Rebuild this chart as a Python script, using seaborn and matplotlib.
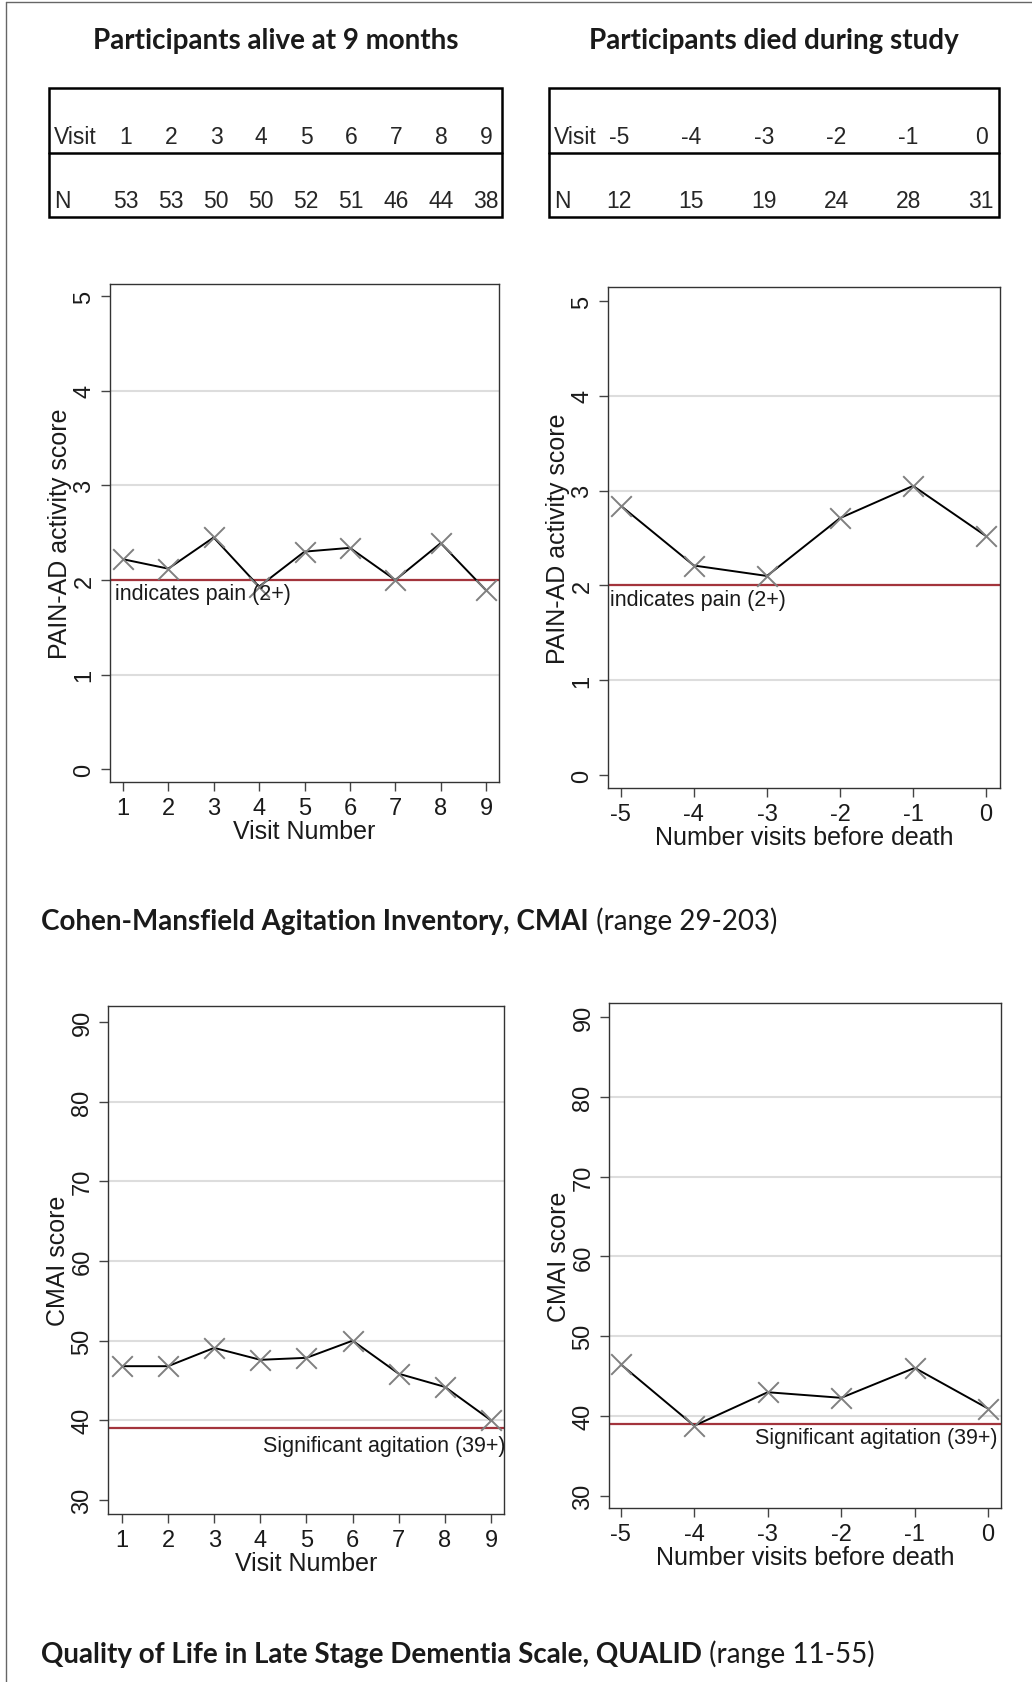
import numpy as np
import pandas as pd
import seaborn as sns
import matplotlib.pyplot as plt
from matplotlib.patches import Rectangle

# N per visit (tables on top)
alive_visits = [1, 2, 3, 4, 5, 6, 7, 8, 9]
alive_n = [53, 53, 50, 50, 52, 51, 46, 44, 38]
died_visits = [-5, -4, -3, -2, -1, 0]
died_n = [12, 15, 19, 24, 28, 31]

# PAIN-AD mean scores
pain_alive = [2.22, 2.12, 2.45, 1.93, 2.30, 2.34, 2.00, 2.39, 1.89]
pain_died = [2.84, 2.21, 2.10, 2.71, 3.05, 2.52]
pain_cutoff = 2
pain_ticks = [0, 1, 2, 3, 4, 5]

# CMAI mean scores
cmai_alive = [46.8, 46.8, 49.1, 47.6, 47.85, 50.0, 45.85, 44.2, 40.0]
cmai_died = [46.5, 38.8, 43.0, 42.3, 46.05, 40.95]
cmai_cutoff = 39
cmai_ticks = [30, 40, 50, 60, 70, 80, 90]

sns.set_theme(style="white")
plt.rcParams["font.family"] = ["Liberation Sans", "DejaVu Sans"]
plt.rcParams["axes.unicode_minus"] = False

W, H = 1032, 1683
fig = plt.figure(figsize=(W / 100, H / 100), dpi=100)

# background axes in pixel units for the page furniture
bg = fig.add_axes([0, 0, 1, 1], zorder=0)
bg.set_xlim(0, W)
bg.set_ylim(H, 0)
bg.axis("off")

head_font = ["Lato", "Open Sans", "DejaVu Sans"]
table_font = ["Liberation Sans Narrow", "Liberation Sans", "DejaVu Sans"]

# page border (left and top)
bg.plot([6, 6], [3, H], color="#666666", lw=1)
bg.plot([6, W], [3, 3], color="#666666", lw=1)

bg.text(276, 41, "Participants alive at 9 months", ha="center", va="center",
        fontsize=20, fontweight="bold", family=head_font, color="#1a1a1a")
bg.text(774, 41, "Participants died during study", ha="center", va="center",
        fontsize=20, fontweight="bold", family=head_font, color="#1a1a1a")


def draw_table(x0, x1, first, last, visits, ns):
    y0, y1, ymid = 89, 218, 154
    bg.add_patch(Rectangle((x0, y0), x1 - x0, y1 - y0, fill=False, ec="black", lw=1.8))
    bg.plot([x0, x1], [ymid, ymid], color="black", lw=1.8)
    bg.text(x0 + 5, 138, "Visit", ha="left", va="center", fontsize=16.5, family=table_font)
    bg.text(x0 + 5, 202, "N", ha="left", va="center", fontsize=16.5, family=table_font)
    cols = np.linspace(first, last, len(visits))
    for cx, v, n in zip(cols, visits, ns):
        bg.text(cx, 138, str(v), ha="center", va="center", fontsize=16.5, family=table_font)
        bg.text(cx, 202, str(n), ha="center", va="center", fontsize=16.5, family=table_font)


draw_table(49, 502, 126, 486, alive_visits, alive_n)
draw_table(549, 999, 619, 981, died_visits, died_n)


def section_title(y, bold, rest):
    t = bg.text(41, y, bold, ha="left", va="bottom", fontsize=20, fontweight="bold",
                family=head_font, color="#1a1a1a")
    bg.annotate(rest, xy=(1, 0), xycoords=t, ha="left", va="bottom", fontsize=20,
                family=head_font, color="#1a1a1a")


section_title(935, "Cohen-Mansfield Agitation Inventory, CMAI", " (range 29-203)")
section_title(1668, "Quality of Life in Late Stage Dementia Scale, QUALID", " (range 11-55)")


def px_axes(left, top, right, bottom):
    return fig.add_axes([left / W, 1 - bottom / H, (right - left) / W, (bottom - top) / H], zorder=1)


def panel(ax, x, y, ticks, cutoff, note, note_x, note_ha, note_dy, ylim, xlim, xlabel, ylabel):
    df = pd.DataFrame({"visit": x, "score": y})
    for t in ticks[1:-1]:
        ax.axhline(t, color="#dddddd", lw=1.5, zorder=0)
    ax.axhline(cutoff, color="#a3343c", lw=1.6, zorder=1)
    sns.lineplot(data=df, x="visit", y="score", color="black", lw=1.4, ax=ax, zorder=2)
    sns.scatterplot(data=df, x="visit", y="score", marker="x", s=220, color="#808080",
                    linewidth=1.4, ax=ax, zorder=3)
    ax.annotate(note, xy=(note_x, cutoff), xycoords=("axes fraction", "data"),
                xytext=(0, note_dy), textcoords="offset points", ha=note_ha, va="center",
                fontsize=15.5, color="#1a1a1a", annotation_clip=False)
    ax.set_xlim(xlim)
    ax.set_ylim(ylim)
    ax.set_xticks(x)
    ax.set_yticks(ticks)
    ax.tick_params(axis="both", direction="out", length=6.5, width=1, color="#444444",
                   labelsize=17, labelcolor="#1a1a1a", pad=4, bottom=True, left=True)
    for lab in ax.get_yticklabels():
        lab.set_rotation(90)
        lab.set_va("center")
    for spine in ax.spines.values():
        spine.set_visible(True)
        spine.set_color("#333333")
        spine.set_linewidth(1)
    ax.set_xlabel(xlabel, fontsize=18, labelpad=0, color="#1a1a1a")
    ax.set_ylabel(ylabel, fontsize=18, labelpad=1, color="#1a1a1a")


ax1 = px_axes(110, 285, 499, 783)
panel(ax1, alive_visits, pain_alive, pain_ticks, pain_cutoff, "indicates pain (2+)",
      0.012, "left", -10, (-0.136, 5.13), (0.717, 9.283), "Visit Number", "PAIN-AD activity score")

ax2 = px_axes(608, 288, 1000, 789)
panel(ax2, died_visits, pain_died, pain_ticks, pain_cutoff, "indicates pain (2+)",
      0.005, "left", -10, (-0.136, 5.147), (-5.176, 0.19), "Number visits before death",
      "PAIN-AD activity score")

ax3 = px_axes(108, 1007, 504, 1515)
panel(ax3, alive_visits, cmai_alive, cmai_ticks, cmai_cutoff, "Significant agitation (39+)",
      1.005, "right", -12.5, (28.25, 92.0), (0.70, 9.28), "Visit Number", "CMAI score")

ax4 = px_axes(609, 1004, 1001, 1509)
panel(ax4, died_visits, cmai_died, cmai_ticks, cmai_cutoff, "Significant agitation (39+)",
      0.99, "right", -9.5, (28.5, 91.75), (-5.16, 0.175), "Number visits before death", "CMAI score")

fig.savefig("out.png", dpi=100)
plt.close(fig)
